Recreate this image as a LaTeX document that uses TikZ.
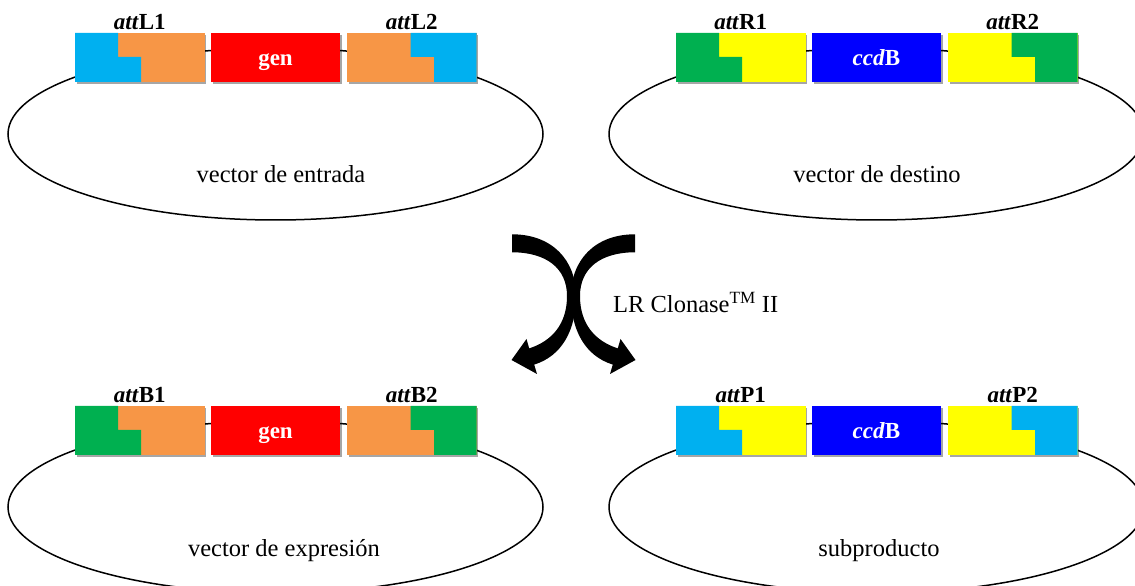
\documentclass[tikz,border=0pt]{standalone}
\usepackage{fontspec}
\setmainfont{Liberation Serif}
\usetikzlibrary{arrows.meta,shadows}
\definecolor{cblue}{HTML}{00B0F0}
\definecolor{corange}{HTML}{F79646}
\definecolor{cred}{HTML}{FF0000}
\definecolor{cgreen}{HTML}{00B050}
\definecolor{cyellow}{HTML}{FFFF00}
\definecolor{cdblue}{HTML}{0000FF}
\tikzset{
  ring/.style={draw=black, line width=1.5pt},
  boxshadow/.style={drop shadow={shadow xshift=1.5pt, shadow yshift=-2.5pt, opacity=0.35, fill=black}},
  attbox/.style={rectangle, inner sep=0pt, outer sep=0pt, minimum width=129.5pt, minimum height=49pt, boxshadow},
  genebox/.style={rectangle, inner sep=0pt, outer sep=0pt, minimum width=129pt, minimum height=49pt, boxshadow},
  genetext/.style={anchor=base, inner sep=0pt, text=white, font=\fontsize{23}{25}\selectfont\bfseries},
  attlabel/.style={anchor=base, inner sep=0pt, font=\fontsize{23}{25}\selectfont\bfseries},
  maintext/.style={anchor=base, inner sep=0pt, font=\fontsize{24.5}{28}\selectfont},
  bigarrow/.style={fill=black, draw=none}
}
% #1 x shift, #2 y shift, #3 name prefix, #4 end colour, #5 att colour,
% #6 gene colour, #7 gene text, #8 att letter
\newcommand\plasmidgroup[8]{%
\begin{scope}[shift={(#1,#2)}]
  \draw[ring] (275.5,452) ellipse [x radius=267.5, y radius=86];
  \node[attbox, fill=#5] (#3a) at (139.75,528.5) {};
  \fill[#4] (#3a.north west) -- ++(43,0) -- ++(0,-24) -- ++(23,0) |- (#3a.south west) -- cycle;
  \node[genebox, fill=#6] (#3g) at (275.5,528.5) {};
  \node[genetext] (#3gt) at (275.5,520) {#7};
  \node[attbox, fill=#5] (#3b) at (411.75,528.5) {};
  \fill[#4] (#3b.north east) -- ++(-66,0) -- ++(0,-24) -- ++(23.5,0) |- (#3b.south east) -- cycle;
  \node[attlabel] (#3la) at (139.75,556) {\textit{att}#81};
  \node[attlabel] (#3lb) at (411.75,556) {\textit{att}#82};
\end{scope}}
\newcommand\curvedarrowshape{%
  \fill[bigarrow] (512,351.7) .. controls (552,351.7) and (576,326) .. (576,290)
     .. controls (576,256) and (562,230) .. (534.2,221.4)
     -- (537,212) -- (511.5,226) -- (526.5,247) -- (529.2,237.6)
     .. controls (552,245) and (567,262) .. (567,290)
     .. controls (567,318) and (546,333.7) .. (512,333.7) -- cycle;}
\begin{document}
\begin{tikzpicture}[x=1pt,y=1pt]
  \useasboundingbox (0,0) rectangle (1135,586);
  \clip (0,0) rectangle (1135,586);
  \fill[white] (0,0) rectangle (1135,586);

  \plasmidgroup{0}{0}{el}{cblue}{corange}{cred}{gen}{L}
  \plasmidgroup{601}{0}{dr}{cgreen}{cyellow}{cdblue}{\textit{ccd}B}{R}
  \plasmidgroup{0}{-373}{bl}{cgreen}{corange}{cred}{gen}{B}
  \plasmidgroup{601}{-373}{br}{cblue}{cyellow}{cdblue}{\textit{ccd}B}{P}

  \node[maintext] (t1) at (281,403) {vector de entrada};
  \node[maintext] (t2) at (877,403) {vector de destino};
  \node[maintext] (t3) at (284,29.5) {vector de expresión};
  \node[maintext] (t4) at (879,29.5) {subproducto};

  % crossing curved arrows
  \curvedarrowshape
  \begin{scope}[shift={(1147,0)}, xscale=-1]
    \curvedarrowshape
  \end{scope}

  \node[anchor=base west, inner sep=0pt, font=\fontsize{24.5}{28}\selectfont] (lr) at (613,273) {LR Clonase\textsuperscript{TM} II};
\end{tikzpicture}
\end{document}
